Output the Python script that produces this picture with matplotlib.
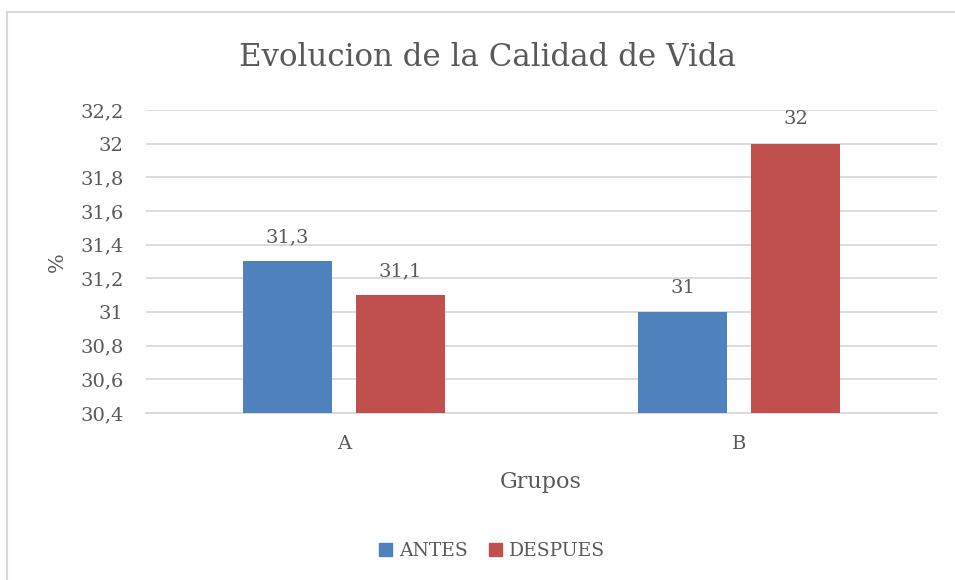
import matplotlib.pyplot as plt
from matplotlib.ticker import FuncFormatter, MultipleLocator
from matplotlib.lines import Line2D
import numpy as np

# data
grupos = ["A", "B"]
antes = [31.3, 31.0]
despues = [31.1, 32.0]
series_names = ["ANTES", "DESPUES"]
colors = ["#4F81BD", "#C0504D"]

text_color = "#595959"
grid_color = "#D9D9D9"
plt.rcParams["font.family"] = ["DejaVu Serif"]

fig = plt.figure(figsize=(9.55, 5.8), dpi=100)
ax = fig.add_axes([146 / 955, 1 - 413 / 580, (937 - 146) / 955, (413 - 110) / 580])

x = np.arange(len(grupos))
width = 0.225
offset = 0.143

for vals, name, col, off in zip([antes, despues], series_names, colors, [-offset, offset]):
    bars = ax.bar(x + off, vals, width, color=col, label=name, zorder=3)
    for b, v in zip(bars, vals):
        lab = f"{v:g}".replace(".", ",")
        ax.annotate(lab, (b.get_x() + b.get_width() / 2, v), xytext=(0, 11),
                    textcoords="offset points", ha="center", va="bottom",
                    fontsize=14, color=text_color)

ax.set_xlim(-0.5, 1.5)
ax.set_ylim(30.4, 32.2)
ax.yaxis.set_major_locator(MultipleLocator(0.2))
ax.yaxis.set_major_formatter(FuncFormatter(lambda v, p: f"{v:.1f}".replace(".", ",").replace(",0", "")))
ax.set_xticks(x)
ax.set_xticklabels(grupos)
ax.tick_params(axis="both", length=0, labelsize=14, colors=text_color)
ax.tick_params(axis="y", pad=16)
ax.tick_params(axis="x", pad=16)
ax.grid(axis="y", color=grid_color, linewidth=1.3, zorder=0)
for s in ["top", "right", "left"]:
    ax.spines[s].set_visible(False)
ax.spines["bottom"].set_color(grid_color)
ax.spines["bottom"].set_linewidth(1.3)

fig.text(0.5105, 1 - 58 / 580, "Evolucion de la Calidad de Vida", ha="center", va="center",
         fontsize=22.2, color=text_color)
fig.text(57 / 955, 1 - 262 / 580, "%", rotation=90, ha="center", va="center",
         fontsize=15, color=text_color)
fig.text(541 / 955, 1 - 482 / 580, "Grupos", ha="center", va="center",
         fontsize=16, color=text_color)

handles = [plt.Rectangle((0, 0), 1, 1, color=c) for c in colors]
fig.legend(handles, series_names, loc="center", bbox_to_anchor=(492 / 955, 1 - 551 / 580),
           ncol=2, frameon=False, fontsize=13.5, handlelength=0.7, handleheight=0.7,
           handletextpad=0.4, columnspacing=1.1, labelcolor=text_color)

# chart border
fig.add_artist(Line2D([7 / 955, 7 / 955], [0, 1 - 12 / 580], color=grid_color, linewidth=1.5))
fig.add_artist(Line2D([7 / 955, 1], [1 - 12 / 580, 1 - 12 / 580], color=grid_color, linewidth=1.5))

fig.savefig("out.png", dpi=100)
